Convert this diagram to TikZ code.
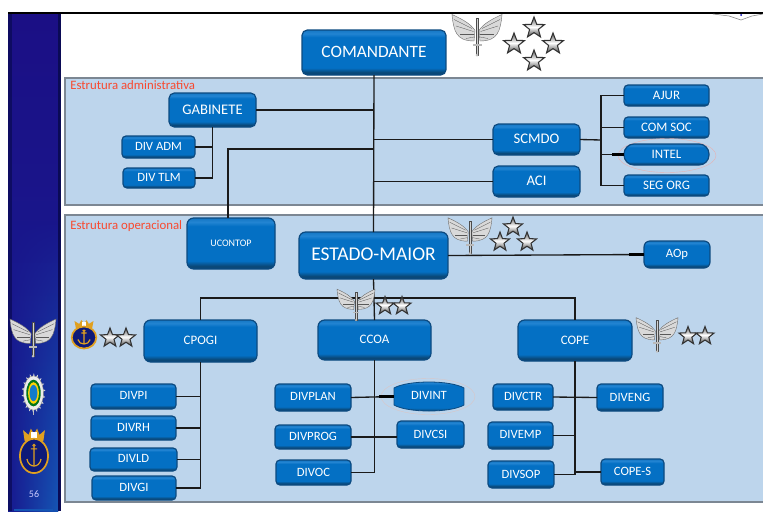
\documentclass[tikz,border=0pt]{standalone}
\usepackage{fontspec}
\usetikzlibrary{fadings}
\setmainfont{Carlito}
\definecolor{bsA}{HTML}{0A4878}
\definecolor{bsB}{HTML}{0470C4}
\definecolor{bsC}{HTML}{2284D2}
\definecolor{bsD}{HTML}{1577C4}
\pgfdeclareverticalshading{boxsh}{100bp}{color(0bp)=(bsA); color(28bp)=(bsA); color(33bp)=(bsB); color(67bp)=(bsB); color(71bp)=(bsC); color(75bp)=(bsD); color(100bp)=(bsD)}
\definecolor{panelc}{HTML}{BDD5EC}
\definecolor{panelb}{HTML}{7C8793}
\definecolor{linec}{HTML}{1A1A1A}
\definecolor{redt}{HTML}{F8492F}
\definecolor{goldc}{HTML}{E0A020}
\definecolor{boxedge}{HTML}{0C4A80}
\definecolor{sideA}{HTML}{1B0F85}
\definecolor{sideB}{HTML}{171E92}
\definecolor{sideC}{HTML}{1555B4}
\definecolor{sideD}{HTML}{0A0A55}
\definecolor{navyf}{HTML}{0E1A78}
\tikzset{
  orgbox/.style={draw=boxedge,line width=0.9pt,rounded corners=3pt,shading=boxsh,text=white,inner sep=0pt,outer sep=0pt,align=center},
  conn/.style={draw=linec,line width=1pt},
  thickconn/.style={draw=black,line width=2.4pt},
  panel/.style={draw=panelb,line width=0.9pt,fill=panelc},
  redlabel/.style={text=redt,inner sep=0pt,anchor=west,font=\fontsize{9.6}{11}\selectfont},
  halo/.style={draw=pink!80!gray,line width=0.3pt},
  wingc/.style={draw=gray!85!black,line width=0.3pt,fill=gray!30},
}
% name x1 y1 x2 y2 size text
\newcommand{\bx}[8][]{%
  \pgfmathsetmacro\bxw{(#5-#3)*0.75}\pgfmathsetmacro\bxh{(#6-#4)*0.75}%
  \pgfmathsetmacro\bxcx{(#3+#5)/2}\pgfmathsetmacro\bxcy{(#4+#6)/2}%
  \node[orgbox,minimum width=\bxw pt,minimum height=\bxh pt,font=\fontsize{#7}{#7}\selectfont,#1] (#2) at (\bxcx,\bxcy) {\raisebox{0.9pt}{#8}};}
\newcommand{\starat}[3]{%
  \begin{scope}[shift={(#1,#2)},x=#3*0.75pt,y=#3*0.75pt]
  \draw[draw=black!80,line width=0.8pt,top color=black!65,bottom color=black!75,middle color=white]
    (90:1) -- (126:.42) -- (162:1) -- (198:.42) -- (234:1) -- (270:.42) -- (306:1) -- (342:.42) -- (18:1) -- (54:.42) -- cycle;
  \end{scope}}
\newcommand{\wingsat}[3]{%
  \begin{scope}[shift={(#1,#2)},x=#3*0.0075pt,y=#3*0.0075pt]
  \foreach \sgn in {-1,1}{
    \begin{scope}[xscale=\sgn]
    \draw[wingc] (4,7) .. controls (12,20) and (30,30) .. (50,39)
      .. controls (49,25) and (46,8) .. (40,0)
      .. controls (35,-8) and (25,-14) .. (6,-14) -- cycle;
    \foreach \fa/\fb/\fc/\fd in {6/-6/22/-9,6/0/34/0,7/5/42/16,10/11/46/29}
      \draw[gray!70!black,line width=0.25pt] (\fa,\fb) -- (\fc,\fd);
    \end{scope}}
  \fill[gray!35] (-2.5,32) rectangle (2.5,-42);
  \draw[gray!60!black,line width=0.25pt] (-2.5,32) rectangle (2.5,-42);
  \fill[gray!55] (-9,-20) rectangle (9,-24);
  \fill[gray!50] (0,-42) circle (3);
  \end{scope}}
\newcommand{\navyat}[4]{%
  \begin{scope}[shift={(#1,#2)},x=#3*0.0075pt,y=#4*0.0075pt]
  \fill[goldc] (-24,28) -- (-28,56) -- (-14,44) -- (-8,60) -- (0,46) -- (8,60) -- (14,44) -- (28,56) -- (24,28) -- cycle;
  \fill[white] (-7,36) rectangle (7,50);
  \draw[fill=navyf,draw=goldc,line width=1.3pt] (0,-10) ellipse (36 and 44);
  \draw[goldc,line width=0.9pt] (0,14) -- (0,-36) (-8,8) -- (8,8) (-18,-18) .. controls (-14,-42) and (14,-42) .. (18,-18);
  \draw[goldc,line width=0.7pt] (0,17) circle (3);
  \end{scope}}
\newcommand{\armyat}[4]{%
  \begin{scope}[shift={(#1,#2)},x=#3*0.0075pt,y=#4*0.0075pt]
  \fill[gray!55] (-3,-50) rectangle (3,-38);
  \foreach \a in {0,20,...,340}
    \fill[gray!25] (\a:26 and 38) -- (\a+8:40 and 46) -- (\a+16:26 and 38) -- cycle;
  \draw[fill=gray!15,draw=gray,line width=0.3pt] (0,0) ellipse (33 and 40);
  \fill[green!45!black!80!teal] (0,0) ellipse (24 and 31);
  \fill[yellow!70!orange] (0,0) ellipse (18 and 25);
  \fill[cyan!60!blue] (0,0) ellipse (13 and 19);
  \end{scope}}
\begin{document}
\begin{tikzpicture}[x=0.75pt,y=-0.75pt]
\useasboundingbox (0,0) rectangle (763,511);
\fill[white] (0,0) rectangle (763,511);
% sidebar
\shade[top color=sideA,bottom color=sideB] (8,14) rectangle (58,511);
\shade[left color=sideB,right color=sideC,path fading=north] (13,220) rectangle (58,511);
\fill[sideD,opacity=.75] (8,14) rectangle (12,511);
\fill[sideD] (58,14) rectangle (61,511);
\fill[sideC] (14,509) rectangle (53,511);
\draw[black,line width=1.2pt] (8,13) -- (763,13);
\draw[gray,line width=0.4pt,fill=white] (713,14) -- (729,16) -- (741,20) -- (752,16) -- (763,14);
\fill[blue!70!black] (741,15) circle (1);
% panels
\path[panel] (65,78) rectangle (764,205);
\path[panel] (65,215) rectangle (764,502);
\node[redlabel] (ladm) at (70,85.5) {Estrutura administrativa};
\node[redlabel] (lop) at (70,226.5) {Estrutura operacional};
% boxes
\bx[rounded corners=4pt]{cmd}{302}{30}{446}{75}{13}{\raisebox{0.7pt}{COMANDANTE}}
\bx[rounded corners=4pt]{gab}{169}{93}{256}{127}{11}{GABINETE}
\bx{dadm}{122}{136}{195}{158}{9.5}{DIV ADM}
\bx{dtlm}{123}{168}{195}{188}{9.5}{DIV TLM}
\bx[rounded corners=4pt]{scm}{493}{124}{580}{155}{11}{SCMDO}
\bx[rounded corners=4pt]{aci}{493}{166}{580}{197}{11}{ACI}
\bx{ajur}{624}{85}{709}{106}{9.7}{AJUR}
\bx{csoc}{624}{117}{709}{138}{9.7}{COM SOC}
\draw[halo] (667,155.5) ellipse (49 and 17);
\bx[rounded corners=7.5pt]{intel}{624}{144}{709}{165}{9.7}{INTEL}
\bx{sorg}{624}{175}{709}{196}{9.7}{SEG ORG}
\bx[rounded corners=5pt]{ucon}{187}{218}{275}{269}{7.5}{UCONTOP}
\bx[rounded corners=5pt]{em}{299}{232}{448}{279}{14.6}{\raisebox{0.5pt}{ESTADO-MAIOR}}
\bx[rounded corners=4.5pt]{aop}{644}{241}{710}{268}{9.5}{AOp}
\bx[rounded corners=5pt]{cpo}{144}{320}{257}{362}{9.7}{CPOGI}
\bx[rounded corners=5pt]{cco}{318}{320}{431}{360}{9.7}{CCOA}
\bx[rounded corners=5pt]{cop}{518}{320}{632}{361}{9.7}{COPE}
\bx{dpi}{91}{384}{176}{409}{9.5}{DIVPI}
\bx{drh}{91}{416}{176}{440}{9.5}{DIVRH}
\bx{dld}{90}{448}{177}{471}{9.5}{DIVLD}
\bx{dgi}{92}{476}{176}{500}{9.5}{DIVGI}
\bx{dplan}{275}{384}{351}{411}{9.5}{DIVPLAN}
\bx{dprog}{275}{425}{351}{449}{9.5}{DIVPROG}
\bx{doc}{276}{460}{351}{485}{9.5}{DIVOC}
\draw[halo,draw=pink!50!gray!60] (428,396.5) ellipse (47 and 18);
\shade[shading=boxsh,draw=boxedge,line width=0.6pt] (394,388) .. controls (408,380) and (450,380) .. (464,388) -- (464,405) .. controls (450,413) and (408,413) .. (394,405) -- cycle;
\node[text=white,inner sep=0pt,minimum width=52.5pt,minimum height=20pt,font=\fontsize{9.5}{9.5}\selectfont] (dint) at (429,396.5) {\raisebox{0.9pt}{DIVINT}};
\bx{dcsi}{397}{421}{464}{448}{9.5}{DIVCSI}
\bx{dctr}{493}{384}{553}{410}{9.5}{DIVCTR}
\bx{demp}{488}{422}{553}{449}{9.5}{DIVEMP}
\bx{dsop}{488}{461}{554}{488}{9.5}{DIVSOP}
\bx{deng}{597}{384}{663}{411}{9.5}{DIVENG}
\bx{cops}{601}{459}{664}{485}{9.5}{COPE-S}
% connectors
\coordinate (barY) at (374,298);
\coordinate (scmT) at (601,140);
\coordinate (uconY) at (374,149);
\draw[conn] (cmd.south) -- (em.north);
\draw[conn] (gab.east) -- (gab.east -| cmd.south);
\draw[conn] (scm.west) -- (scm.west -| cmd.south);
\draw[conn] (aci.west) -- (aci.west -| cmd.south);
\draw[conn] ([xshift=-2.25pt]ucon.north) |- (uconY);
\draw[conn] (gab.south) -- (gab.south |- dtlm.east) -- (dtlm.east);
\draw[conn] (dadm.east) -- (dadm.east -| gab.south);
\draw[conn] (scm.east) -- (scmT);
\draw[conn] (ajur.west) -| (scmT) |- (sorg.west);
\draw[conn] (csoc.west) -- (csoc.west -| scmT);
\draw[conn] (intel.west) -- (intel.west -| scmT);
\draw[thickconn] (intel.west) -- ++(-9pt,0);
\draw[conn] (em.east) -- (aop.west);
\draw[thickconn] (aop.west) -- ++(-11pt,0);
\draw[conn] (em.south) -- (cco.north);
\draw[conn] (cpo.north) |- (barY) -| (cop.north);
\draw[conn] (cpo.south) -- (cpo.south |- dgi.east) -- (dgi.east);
\draw[conn] (dpi.east) -- (dpi.east -| cpo.south);
\draw[conn] (drh.east) -- (drh.east -| cpo.south);
\draw[conn] (dld.east) -- (dld.east -| cpo.south);
\draw[conn] (cco.south) -- (cco.south |- doc.east) -- (doc.east);
\draw[conn] (dplan.east) -- (dint.west);
\draw[thickconn] (dint.west) -- ++(-11pt,0);
\draw[conn] (dprog.east) -- (dprog.east -| dcsi.west);
\draw[conn] (cop.south) -- (cop.south |- dsop.east) -- (dsop.east);
\draw[conn] (dctr.east) -- (deng.west);
\draw[conn] (demp.east) -- (demp.east -| cop.south);
\draw[conn] (cops.west) -- (cops.west -| cop.south);
% insignia
\wingsat{477}{34}{50}
\starat{534}{28}{11}\starat{514}{44}{11}\starat{553}{44}{11}\starat{534}{61}{11}
\wingsat{470}{235}{44}
\starat{513}{227}{10}\starat{500}{242}{10}\starat{527}{242}{10}
\wingsat{356}{304}{38}
\starat{385}{306}{9.5}\starat{402}{306}{9.5}
\wingsat{657}{334}{42}
\starat{688}{336}{9.5}\starat{705}{336}{9.5}
\navyat{84}{335}{34}{25}
\starat{110}{338}{10}\starat{126}{338}{10}
\wingsat{33}{337}{46}
\armyat{33.5}{393}{30}{43}
\navyat{34}{452}{39}{39}
\node[text=white!80!blue,inner sep=0pt,font=\fontsize{7.5}{8}\selectfont] (pg) at (34,494) {56};
\end{tikzpicture}
\end{document}
